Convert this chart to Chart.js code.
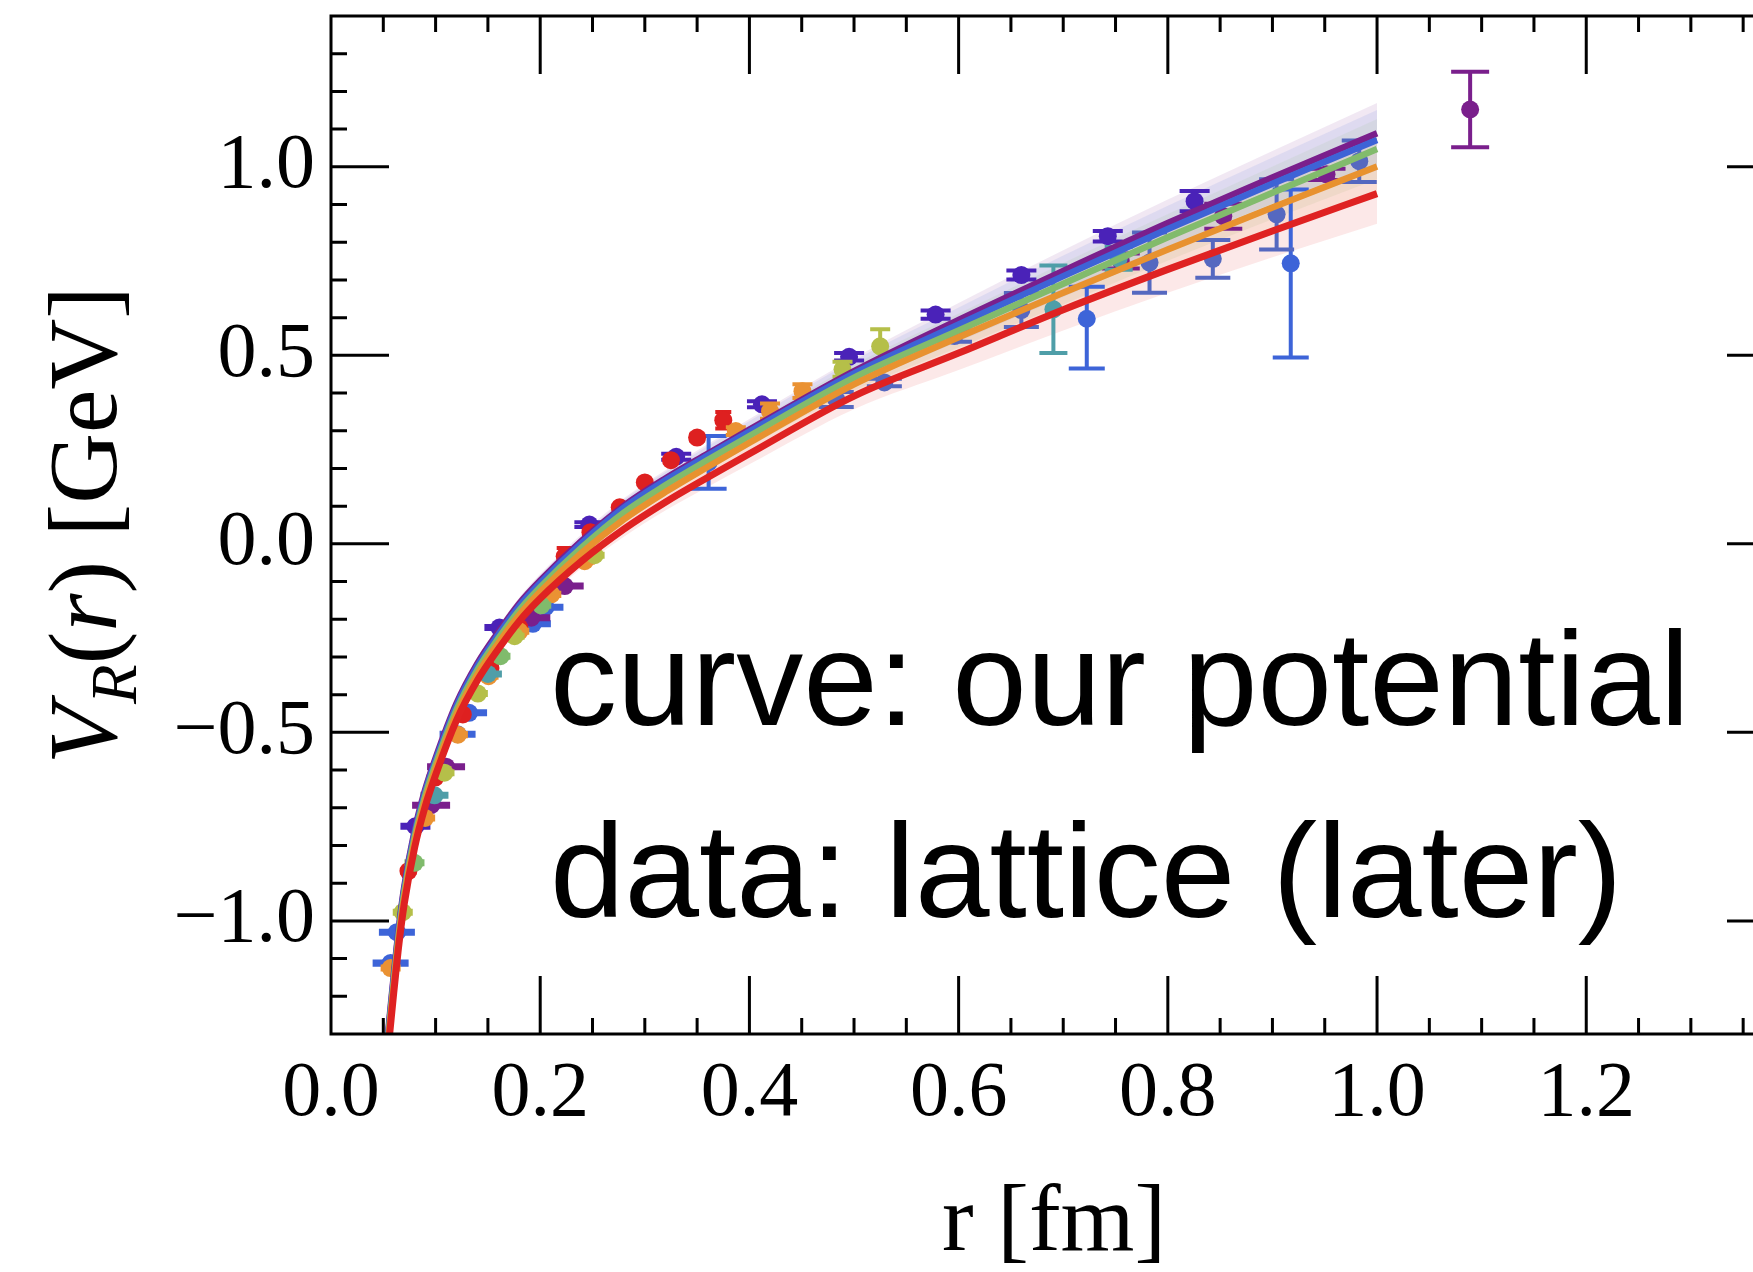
<!DOCTYPE html>
<html>
<head>
<meta charset="utf-8">
<title>V_R(r)</title>
<script src="https://cdn.jsdelivr.net/npm/chart.js@4.4.0/dist/chart.umd.min.js"></script>
<style>
    html, body { margin: 0; padding: 0; background: #fff; overflow: hidden; }
    .wrap { position: relative; width: 1800px; height: 1272px; }
</style>
</head>
<body>
<div class="wrap"><canvas id="potentialChart"></canvas></div>
<script>
// curves (r in fm, V in GeV)
const rGrid = [0.054, 0.056, 0.06, 0.065, 0.07, 0.08, 0.09, 0.10, 0.12, 0.14, 0.16, 0.18,
    0.20, 0.24, 0.28, 0.32, 0.36, 0.40, 0.50, 0.60, 0.70, 0.80, 0.90, 1.00];
const curvePurple = [-1.313, -1.257, -1.145, -1.015, -0.910, -0.760, -0.652, -0.568, -0.423, -0.317, -0.234, -0.158,
    -0.097, 0.009, 0.101, 0.174, 0.239, 0.303, 0.458, 0.594, 0.724, 0.851, 0.972, 1.089];
const curveBlue = [-1.320, -1.264, -1.152, -1.022, -0.917, -0.767, -0.659, -0.575, -0.430, -0.324, -0.241, -0.165,
    -0.104, 0.003, 0.096, 0.169, 0.234, 0.298, 0.452, 0.582, 0.710, 0.835, 0.955, 1.071];
const curveGreen = [-1.330, -1.274, -1.162, -1.032, -0.927, -0.777, -0.669, -0.585, -0.440, -0.334, -0.251, -0.176,
    -0.115, -0.009, 0.083, 0.156, 0.222, 0.286, 0.441, 0.566, 0.690, 0.813, 0.931, 1.047];
const curveOrange = [-1.342, -1.286, -1.174, -1.044, -0.939, -0.789, -0.681, -0.597, -0.452, -0.346, -0.263, -0.188,
    -0.127, -0.023, 0.065, 0.138, 0.204, 0.268, 0.423, 0.548, 0.666, 0.781, 0.892, 1.001];
const curveRed = [-1.358, -1.302, -1.190, -1.060, -0.955, -0.805, -0.697, -0.613, -0.468, -0.362, -0.279, -0.205,
    -0.145, -0.045, 0.039, 0.111, 0.176, 0.239, 0.392, 0.506, 0.621, 0.728, 0.830, 0.929];
const bandHalf = [0.012, 0.012, 0.012, 0.012, 0.012, 0.012, 0.013, 0.013, 0.014, 0.015, 0.016, 0.016,
    0.017, 0.018, 0.020, 0.022, 0.025, 0.028, 0.035, 0.045, 0.055, 0.062, 0.070, 0.080];

// lattice points
const blueR = [0.057, 0.063, 0.121, 0.132, 0.193, 0.205, 0.361, 0.7225, 0.9175];
const blueV = [-1.112, -1.030, -0.505, -0.448, -0.212, -0.168, 0.216, 0.597, 0.744];
const blueErr = [0.004, 0.004, 0.004, 0.004, 0.004, 0.004, 0.07, [0.132, 0.085], [0.25, 0.196]];

const violetR = [0.0807, 0.161, 0.247, 0.330, 0.412, 0.4953, 0.578, 0.660, 0.7426, 0.8256];
const violetV = [-0.749, -0.222, 0.051, 0.231, 0.370, 0.496, 0.608, 0.713, 0.816, 0.909];
const violetErr = [0.004, 0.004, 0.006, 0.008, 0.008, 0.010, 0.011, 0.012, 0.014, 0.027];

const purpleR = [0.0957, 0.110, 0.1915, 0.2234, 0.755, 0.853, 0.9517, 1.089];
const purpleV = [-0.693, -0.591, -0.196, -0.112, 0.750, 0.869, 0.980, 1.152];
const purpleErr = [0.004, 0.004, 0.004, 0.004, 0.02, 0.033, 0.015, 0.1];

const redR = [0.074, 0.0996, 0.126, 0.1525, 0.180, 0.2234, 0.248, 0.276, 0.300, 0.325, 0.350, 0.375];
const redV = [-0.868, -0.620, -0.4525, -0.329, -0.222, -0.033, 0.031, 0.097, 0.163, 0.222, 0.282, 0.328];
const redErr = [0.004, 0.004, 0.004, 0.004, 0.004, 0.022, 0.004, 0.004, 0.004, 0.006, 0.008, 0.022];

const orangeR = [0.057, 0.090, 0.1213, 0.1506, 0.180, 0.2106, 0.2425, 0.387, 0.4197, 0.4507];
const orangeV = [-1.125, -0.727, -0.506, -0.351, -0.232, -0.134, -0.046, 0.299, 0.352, 0.405];
const orangeErr = [0.004, 0.004, 0.004, 0.004, 0.004, 0.004, 0.004, 0.01, 0.02, 0.018];

const limeR = [0.0686, 0.1085, 0.1404, 0.1755, 0.252, 0.489, 0.525];
const limeV = [-0.977, -0.607, -0.397, -0.245, -0.030, 0.463, 0.524];
const limeErr = [0.004, 0.004, 0.004, 0.004, 0.004, 0.02, 0.045];

const greenR = [0.0798, 0.162, 0.201];
const greenV = [-0.846, -0.298, -0.163];
const greenErr = [0.004, 0.004, 0.004];

const tealR = [0.0989, 0.150, 0.6906, 0.753];
const tealV = [-0.667, -0.345, 0.622, 0.757];
const tealErr = [0.004, 0.004, 0.116, 0.03];

const slateR = [0.483, 0.529, 0.596, 0.660, 0.7825, 0.843, 0.904, 0.983];
const slateV = [0.383, 0.428, 0.551, 0.620, 0.746, 0.756, 0.874, 1.015];
const slateErr = [0.02, 0.01, 0.015, 0.045, 0.08, 0.05, 0.093, 0.055];

const SERIF = '"Liberation Serif", "Times New Roman", serif';
const SANS = '"Liberation Sans", Arial, Helvetica, sans-serif';

const curves = [
    { v: curveRed, color: "#df2222", rgb: "223,34,34", width: 7, order: 1 },
    { v: curveOrange, color: "#e8922f", rgb: "232,146,47", width: 6.5, order: 2 },
    { v: curveGreen, color: "#82bb6c", rgb: "130,187,108", width: 6.5, order: 3 },
    { v: curveBlue, color: "#3e63d6", rgb: "62,99,214", width: 6.5, order: 4 },
    { v: curvePurple, color: "#7a1f8c", rgb: "122,31,140", width: 6.5, order: 5 },
];

const points = [
    { r: slateR, v: slateV, err: slateErr, color: "#5568c0", cap: 35 },
    { r: tealR, v: tealV, err: tealErr, color: "#4f9ea8", cap: 28 },
    { r: greenR, v: greenV, err: greenErr, color: "#80bb6c", cap: 20 },
    { r: limeR, v: limeV, err: limeErr, color: "#b5bf49", cap: 20 },
    { r: orangeR, v: orangeV, err: orangeErr, color: "#ea9233", cap: 20 },
    { r: redR, v: redV, err: redErr, color: "#de2020", cap: 16 },
    { r: purpleR, v: purpleV, err: purpleErr, color: "#7a1f8c", cap: 38 },
    { r: violetR, v: violetV, err: violetErr, color: "#4a22b8", cap: 30 },
    { r: blueR, v: blueV, err: blueErr, color: "#3d64d8", cap: 36 },
];

const datasets = [];

curves.forEach((c) => {
    datasets.push({
        type: "line",
        data: rGrid.map((r, i) => ({ x: r, y: c.v[i] + bandHalf[i] })),
        borderWidth: 0,
        pointRadius: 0,
        fill: false,
        cubicInterpolationMode: "monotone",
        order: 30,
    });
    datasets.push({
        type: "line",
        data: rGrid.map((r, i) => ({ x: r, y: c.v[i] - bandHalf[i] })),
        borderWidth: 0,
        pointRadius: 0,
        fill: "-1",
        backgroundColor: `rgba(${c.rgb},0.1)`,
        cubicInterpolationMode: "monotone",
        order: 30,
    });
});

points.forEach((p) => {
    datasets.push({
        type: "scatter",
        data: p.r.map((r, i) => ({ x: r, y: p.v[i] })),
        backgroundColor: p.color,
        borderWidth: 0,
        pointRadius: 9,
        errors: p.err,
        capWidth: p.cap,
        order: 20,
    });
});

curves.forEach((c) => {
    datasets.push({
        type: "line",
        data: rGrid.map((r, i) => ({ x: r, y: c.v[i] })),
        borderColor: c.color,
        borderWidth: c.width,
        pointRadius: 0,
        fill: false,
        cubicInterpolationMode: "monotone",
        order: c.order,
    });
});

const fmt = (v) => (v < -1e-9 ? "\u2212" : "") + Math.abs(v).toFixed(1);

const errorBars = {
    id: "errorBars",
    beforeDatasetDraw(chart, args) {
        const ds = chart.data.datasets[args.index];
        if (!ds.errors) return;
        const { ctx, scales: { x, y } } = chart;
        ctx.save();
        ctx.strokeStyle = ds.backgroundColor;
        ctx.lineWidth = 4;
        ds.data.forEach((p, i) => {
            const e = ds.errors[i];
            const lo = Array.isArray(e) ? e[0] : e;
            const hi = Array.isArray(e) ? e[1] : e;
            const px = x.getPixelForValue(p.x);
            const top = y.getPixelForValue(p.y + hi);
            const bot = y.getPixelForValue(p.y - lo);
            const h = ds.capWidth / 2;
            ctx.beginPath();
            ctx.moveTo(px, top);
            ctx.lineTo(px, bot);
            ctx.moveTo(px - h, top);
            ctx.lineTo(px + h, top);
            ctx.moveTo(px - h, bot);
            ctx.lineTo(px + h, bot);
            ctx.stroke();
        });
        ctx.restore();
    },
};

const frame = {
    id: "frame",
    afterDraw(chart) {
        const { ctx, chartArea: a, scales: { x, y } } = chart;
        ctx.save();
        ctx.strokeStyle = "#000";
        ctx.lineWidth = 3;
        ctx.strokeRect(a.left, a.top, a.right - a.left, a.bottom - a.top);

        ctx.beginPath();
        for (let k = 1; k <= 28; k++) {
            const px = x.getPixelForValue(k * 0.05);
            if (px >= a.right - 1) break;
            const len = k % 4 === 0 ? 58 : 16;
            ctx.moveTo(px, a.bottom);
            ctx.lineTo(px, a.bottom - len);
            ctx.moveTo(px, a.top);
            ctx.lineTo(px, a.top + len);
        }
        for (let k = -12; k <= 13; k++) {
            const py = y.getPixelForValue(k * 0.1);
            const len = k % 5 === 0 ? 58 : 16;
            ctx.moveTo(a.left, py);
            ctx.lineTo(a.left + len, py);
            ctx.moveTo(a.right, py);
            ctx.lineTo(a.right - len, py);
        }
        ctx.stroke();

        // axis titles
        ctx.fillStyle = "#000";
        ctx.textBaseline = "alphabetic";
        ctx.font = `95px ${SERIF}`;
        ctx.textAlign = "center";
        ctx.fillText("r [fm]", (a.left + a.right) / 2 - 4, 1250);

        const size = 98;
        const parts = [
            { t: "V", f: `italic ${size}px ${SERIF}`, dy: 0 },
            { t: "R", f: `italic ${Math.round(size * 0.66)}px ${SERIF}`, dy: size * 0.2 },
            { t: "(", f: `${size}px ${SERIF}`, dy: 0 },
            { t: "r", f: `italic ${size}px ${SERIF}`, dy: 0 },
            { t: ")", f: `${size}px ${SERIF}`, dy: 0 },
            { t: " [GeV]", f: `${size}px ${SERIF}`, dy: 0 },
        ];
        ctx.textAlign = "left";
        let total = 0;
        parts.forEach((p) => {
            ctx.font = p.f;
            p.w = ctx.measureText(p.t).width;
            total += p.w;
        });
        ctx.translate(116, (a.top + a.bottom) / 2);
        ctx.rotate(-Math.PI / 2);
        let cx = -total / 2;
        parts.forEach((p) => {
            ctx.font = p.f;
            ctx.fillText(p.t, cx, p.dy);
            cx += p.w;
        });
        ctx.restore();

        // annotation
        ctx.save();
        ctx.fillStyle = "#000";
        ctx.font = `134px ${SANS}`;
        ctx.textAlign = "left";
        ctx.textBaseline = "alphabetic";
        ctx.fillText("curve: our potential", 550, 725);
        ctx.fillText("data: lattice (later)", 550, 917);
        ctx.restore();
    },
};

new Chart(document.getElementById("potentialChart"), {
    type: "scatter",
    data: { datasets },
    options: {
        responsive: true,
        maintainAspectRatio: false,
        animation: false,
        layout: { padding: { top: 16, right: 15, left: 0, bottom: 0 } },
        plugins: { legend: { display: false }, tooltip: { enabled: false } },
        scales: {
            x: {
                type: "linear",
                position: "bottom",
                min: 0,
                max: 1.39,
                grid: { display: false, drawTicks: false },
                border: { display: false },
                ticks: {
                    stepSize: 0.2,
                    includeBounds: false,
                    autoSkip: false,
                    maxRotation: 0,
                    padding: 14,
                    color: "#000",
                    font: { family: SERIF, size: 78 },
                    callback: (v) => fmt(v),
                },
                afterFit: (s) => {
                    s.height = 238;
                    s.paddingLeft = 0;
                    s.paddingRight = 0;
                },
            },
            y: {
                type: "linear",
                position: "left",
                min: -1.3,
                max: 1.4,
                grid: { display: false, drawTicks: false },
                border: { display: false },
                ticks: {
                    stepSize: 0.5,
                    includeBounds: false,
                    autoSkip: false,
                    padding: 16,
                    color: "#000",
                    font: { family: SERIF, size: 78 },
                    callback: (v) => fmt(v),
                },
                afterFit: (s) => {
                    s.width = 331;
                    s.paddingTop = 0;
                    s.paddingBottom = 0;
                },
            },
        },
    },
    plugins: [errorBars, frame],
});
</script>
</body>
</html>
